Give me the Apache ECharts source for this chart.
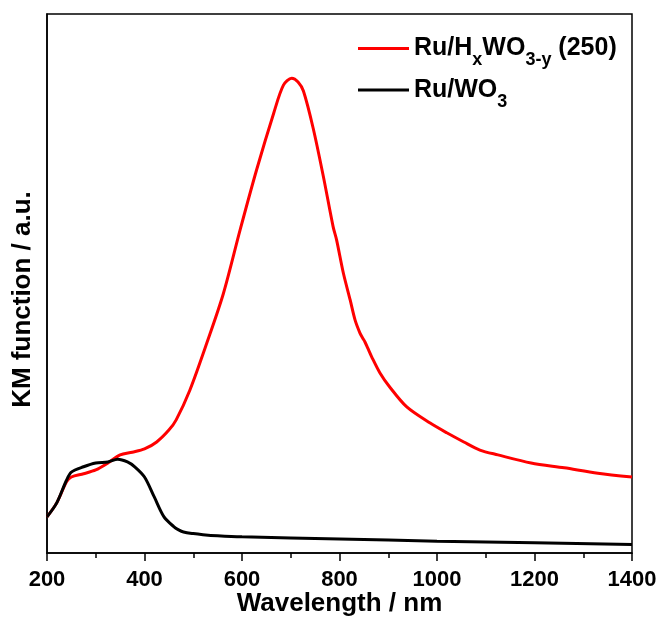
<!DOCTYPE html>
<html>
<head>
<meta charset="utf-8">
<script src="https://cdn.jsdelivr.net/npm/echarts@6/dist/echarts.min.js"></script>
<style>
  html, body { margin: 0; padding: 0; background: #fff; }
  #chart { width: 662px; height: 618px; }
</style>
</head>
<body>
<div id="chart"></div>
<script>
// Kubelka-Munk spectra (arbitrary units) against wavelength in nm
const wavelengthHx = [200, 220, 240, 250, 275, 300, 325, 350, 375, 400, 425, 450, 465, 493, 528, 562, 596, 630, 665, 685, 702, 715, 726, 746, 767, 787, 794, 808, 822, 832, 842, 848, 852, 858, 866, 883, 903, 938, 986, 1020, 1055, 1088, 1125, 1193, 1261, 1330, 1400];
const kmHx = [0.067, 0.093, 0.132, 0.141, 0.147, 0.154, 0.167, 0.182, 0.187, 0.193, 0.206, 0.228, 0.247, 0.302, 0.390, 0.482, 0.599, 0.711, 0.816, 0.868, 0.881, 0.874, 0.857, 0.788, 0.698, 0.605, 0.581, 0.519, 0.469, 0.432, 0.408, 0.398, 0.392, 0.380, 0.364, 0.334, 0.308, 0.271, 0.241, 0.223, 0.206, 0.191, 0.182, 0.167, 0.158, 0.148, 0.141];

const wavelengthWO3 = [200, 220, 240, 250, 275, 300, 325, 345, 365, 380, 400, 420, 440, 460, 470, 480, 500, 520, 550, 600, 800, 1000, 1200, 1400];
const kmWO3 = [0.067, 0.093, 0.135, 0.150, 0.160, 0.167, 0.169, 0.174, 0.169, 0.160, 0.141, 0.104, 0.067, 0.049, 0.043, 0.039, 0.036, 0.034, 0.032, 0.030, 0.026, 0.022, 0.019, 0.016];

const seriesNames = ['Ru/HxWO3-y (250)', 'Ru/WO3'];
const xTicks = [200, 400, 600, 800, 1000, 1200, 1400];

const pairs = (xs, ys) => xs.map((x, i) => [x, ys[i]]);

const FONT = 'Arial, "Liberation Sans", sans-serif';

const chart = echarts.init(document.getElementById('chart'), null, { renderer: 'canvas' });

chart.setOption({
  backgroundColor: '#ffffff',
  animation: false,
  grid: {
    left: 47, right: 30, top: 14, bottom: 65,
    outerBoundsMode: 'none',
    containLabel: false,
    show: true, borderColor: '#000', borderWidth: 1.5, backgroundColor: 'transparent'
  },
  legend: {
    orient: 'vertical',
    left: 353,
    top: 31,
    padding: 5,
    icon: 'rect',
    itemWidth: 51,
    itemHeight: 3,
    itemGap: 8,
    align: 'left',
    data: seriesNames,
    formatter: function (name) {
      if (name === seriesNames[0]) {
        return '{m|Ru/H}{s|x}{m|WO}{s|3-y}{m| (250)}';
      }
      return '{m|Ru/WO}{s|3}';
    },
    textStyle: {
      rich: {
        m: { fontFamily: FONT, fontWeight: 'bold', fontSize: 25, color: '#000' },
        s: { fontFamily: FONT, fontWeight: 'bold', fontSize: 18, color: '#000', padding: [24, 0, 0, 0] }
      }
    }
  },
  xAxis: {
    type: 'value',
    min: xTicks[0],
    max: xTicks[xTicks.length - 1],
    interval: 200,
    name: 'Wavelength / nm',
    nameLocation: 'middle',
    nameGap: 38,
    nameMoveOverlap: false,
    nameTextStyle: { fontFamily: FONT, fontWeight: 'bold', fontSize: 26, color: '#000' },
    axisLine: { show: true, lineStyle: { color: '#000', width: 1.5 } },
    axisTick: { show: true, inside: false, length: 8, lineStyle: { color: '#000', width: 1.5 } },
    minorTick: { show: true, splitNumber: 2, length: 5, lineStyle: { color: '#000', width: 1.5 } },
    axisLabel: {
      fontFamily: FONT, fontWeight: 'bold', fontSize: 22, color: '#000', margin: 16,
      formatter: function (v) { return String(v); }
    },
    splitLine: { show: false }
  },
  yAxis: {
    type: 'value',
    min: 0,
    max: 1,
    name: 'KM function / a.u.',
    nameLocation: 'middle',
    nameGap: 11,
    nameMoveOverlap: false,
    nameTextStyle: {
      fontFamily: FONT, fontWeight: 'bold', fontSize: 26, color: '#000',
      padding: [0, 32, 0, 0]
    },
    axisLine: { show: true, lineStyle: { color: '#000', width: 1.5 } },
    axisTick: { show: false },
    axisLabel: { show: false },
    splitLine: { show: false }
  },
  series: [
    {
      name: seriesNames[0],
      type: 'line',
      data: pairs(wavelengthHx, kmHx),
      symbol: 'none',
      smooth: 0.3,
      lineStyle: { color: '#ff0000', width: 3 },
      itemStyle: { color: '#ff0000' },
      z: 2
    },
    {
      name: seriesNames[1],
      type: 'line',
      data: pairs(wavelengthWO3, kmWO3),
      symbol: 'none',
      smooth: 0.3,
      lineStyle: { color: '#000000', width: 3 },
      itemStyle: { color: '#000000' },
      z: 3
    }
  ]
});
</script>
</body>
</html>
